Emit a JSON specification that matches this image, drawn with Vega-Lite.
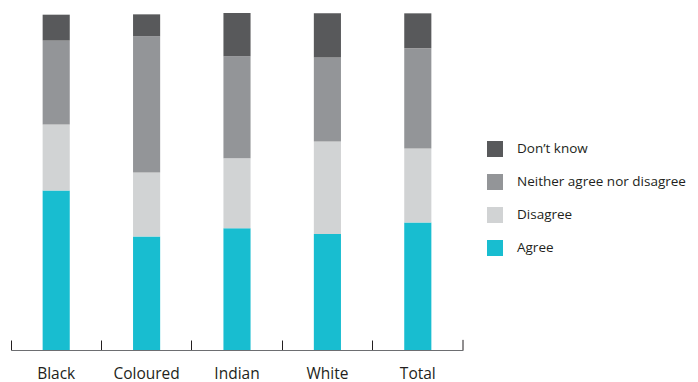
{
  "$schema": "https://vega.github.io/schema/vega-lite/v6.json",
  "autosize": "none",
  "padding": {"left": 11, "top": 13, "right": 235, "bottom": 32},
  "width": 452,
  "height": 337,
  "background": "white",
  "config": {
    "view": {"stroke": null},
    "font": "Open Sans"
  },
  "datasets": {
    "survey": [
      {"group": "Black", "response": "Agree", "pct": 47.3},
      {"group": "Black", "response": "Disagree", "pct": 19.6},
      {"group": "Black", "response": "Neither agree nor disagree", "pct": 24.9},
      {"group": "Black", "response": "Don’t know", "pct": 7.7},
      {"group": "Coloured", "response": "Agree", "pct": 33.7},
      {"group": "Coloured", "response": "Disagree", "pct": 19.0},
      {"group": "Coloured", "response": "Neither agree nor disagree", "pct": 40.4},
      {"group": "Coloured", "response": "Don’t know", "pct": 6.5},
      {"group": "Indian", "response": "Agree", "pct": 36.1},
      {"group": "Indian", "response": "Disagree", "pct": 20.8},
      {"group": "Indian", "response": "Neither agree nor disagree", "pct": 30.3},
      {"group": "Indian", "response": "Don’t know", "pct": 12.8},
      {"group": "White", "response": "Agree", "pct": 34.4},
      {"group": "White", "response": "Disagree", "pct": 27.5},
      {"group": "White", "response": "Neither agree nor disagree", "pct": 24.9},
      {"group": "White", "response": "Don’t know", "pct": 13.1},
      {"group": "Total", "response": "Agree", "pct": 37.8},
      {"group": "Total", "response": "Disagree", "pct": 22.0},
      {"group": "Total", "response": "Neither agree nor disagree", "pct": 29.7},
      {"group": "Total", "response": "Don’t know", "pct": 10.4}
    ],
    "endTick": [{"group": "Total"}]
  },
  "layer": [
    {
      "data": {"name": "survey"},
      "transform": [
        {"calculate": "indexof(['Agree','Disagree','Neither agree nor disagree','Don’t know'], datum.response)", "as": "stackOrder"}
      ],
      "mark": {"type": "bar", "width": {"band": 0.3}},
      "encoding": {
        "x": {
          "field": "group",
          "type": "nominal",
          "scale": {"domain": ["Black", "Coloured", "Indian", "White", "Total"], "paddingInner": 0, "paddingOuter": 0},
          "axis": {
            "title": null,
            "labelAngle": 0,
            "labelFontSize": 15.5,
            "labelColor": "#231f20",
            "labelPadding": 26,
            "bandPosition": 0,
            "domainColor": "#6d6e71",
            "domainWidth": 1.2,
            "tickColor": "#231f20",
            "tickSize": -10,
            "tickWidth": 1
          }
        },
        "y": {
          "field": "pct",
          "type": "quantitative",
          "stack": "zero",
          "scale": {"domain": [0, 100]},
          "axis": null
        },
        "order": {"field": "stackOrder", "type": "quantitative"},
        "color": {
          "field": "response",
          "type": "nominal",
          "scale": {
            "domain": ["Don’t know", "Neither agree nor disagree", "Disagree", "Agree"],
            "range": ["#58595b", "#939598", "#d1d3d4", "#18bdd0"]
          },
          "legend": {
            "title": null,
            "orient": "none",
            "legendX": 476,
            "legendY": 128,
            "padding": 0,
            "symbolType": "square",
            "symbolSize": 256,
            "symbolStrokeWidth": 0,
            "rowPadding": 17,
            "labelOffset": 14,
            "labelFontSize": 13.5,
            "labelLimit": 220,
            "labelColor": "#231f20"
          }
        }
      }
    },
    {
      "data": {"name": "endTick"},
      "mark": {"type": "rule", "color": "#231f20", "strokeWidth": 1},
      "encoding": {
        "x": {"field": "group", "type": "nominal", "bandPosition": 1},
        "y": {"datum": 0},
        "y2": {"datum": 3}
      }
    }
  ]
}
